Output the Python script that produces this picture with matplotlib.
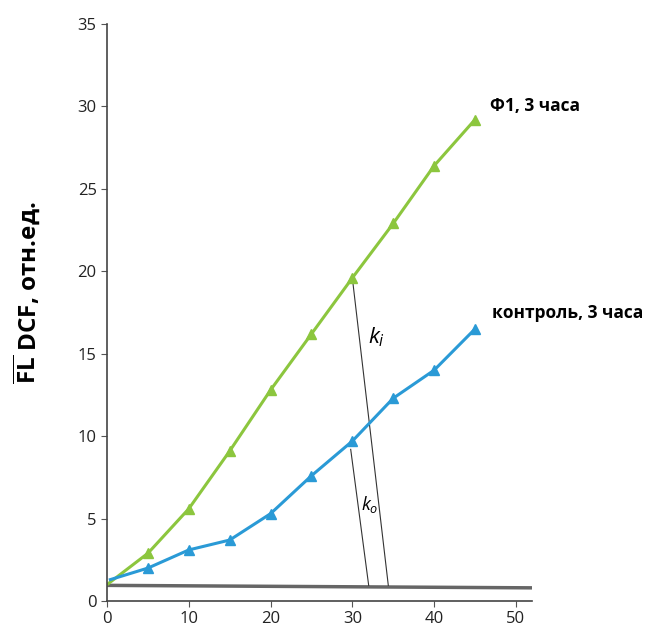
import matplotlib.pyplot as plt
import numpy as np

plt.rcParams['font.family'] = ['Open Sans', 'DejaVu Sans']
plt.rcParams['mathtext.fontset'] = 'custom'
plt.rcParams['mathtext.rm'] = 'Open Sans'
plt.rcParams['mathtext.it'] = 'Open Sans:italic'
plt.rcParams['mathtext.bf'] = 'Open Sans:bold'

# time points
t = [0, 5, 10, 15, 20, 25, 30, 35, 40, 45]

# Ф1, 3 часа
f1 = [1.0, 2.9, 5.6, 9.1, 12.8, 16.2, 19.6, 22.9, 26.4, 29.2]
# контроль, 3 часа
ctrl = [1.3, 2.0, 3.1, 3.7, 5.3, 7.6, 9.7, 12.3, 14.0, 16.5]

# baseline and tangent construction lines
base_x = [0, 52]
base_y = [0.95, 0.8]
ki_x = [30, 34.4]
ki_y = [19.6, 0.95]
ko_x = [29.8, 32.0]
ko_y = [9.2, 0.95]

green = '#8cc63e'
blue = '#2a9ad6'

fig = plt.figure(figsize=(6.49, 6.32), dpi=100)
ax = fig.add_axes([0.165, 0.049, 0.655, 0.913])

ax.plot(base_x, base_y, color='#666666', lw=2.5, zorder=1)
ax.plot(ki_x, ki_y, color='#333333', lw=0.8)
ax.plot(ko_x, ko_y, color='#333333', lw=0.8)

ax.plot(t, f1, color=green, lw=2.2)
ax.plot(t[1:], f1[1:], ls='none', marker='^', ms=6.5, color=green)
ax.plot([0.4] + t[1:], ctrl, color=blue, lw=2.2)
ax.plot(t[1:], ctrl[1:], ls='none', marker='^', ms=6.5, color=blue)

ax.text(46.9, 30.0, 'Ф1, 3 часа', fontsize=12.5, fontweight='bold', va='center')
ax.text(47.1, 17.5, 'контроль, 3 часа', fontsize=12.5, fontweight='bold', va='center')
ax.text(31.9, 15.6, '$k_i$', fontsize=16)
ax.text(31.1, 5.5, '$k_o$', fontsize=13)

ax.set_xlim(0, 52)
ax.set_ylim(0, 35)
ax.set_xticks(np.arange(0, 51, 10))
ax.set_yticks(np.arange(0, 36, 5))
ax.tick_params(labelsize=12, length=4, color='#555555', labelcolor='#222222')
for s in ['top', 'right']:
    ax.spines[s].set_visible(False)
for s in ['left', 'bottom']:
    ax.spines[s].set_color('#444444')
    ax.spines[s].set_linewidth(1.2)

ax.set_ylabel(r'$\overline{\mathbf{FL}}$ DCF, отн.ед.', fontsize=17.5, fontweight='bold')
ax.yaxis.set_label_coords(-0.152, 0.535)

fig.savefig('out.png', dpi=100)
